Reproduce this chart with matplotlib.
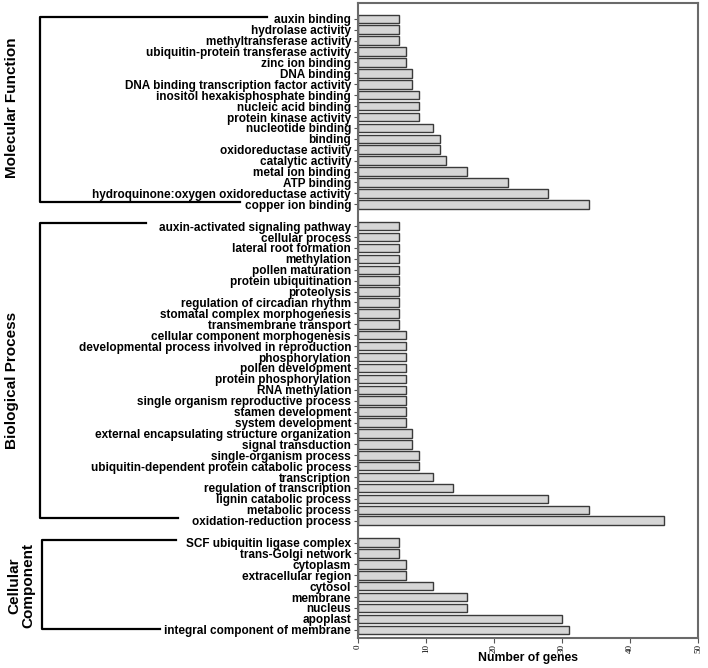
import matplotlib
matplotlib.use("Agg")
import matplotlib.pyplot as plt
from matplotlib.lines import Line2D

mf_terms = ["auxin binding", "hydrolase activity", "methyltransferase activity",
            "ubiquitin-protein transferase activity", "zinc ion binding", "DNA binding",
            "DNA binding transcription factor activity", "inositol hexakisphosphate binding",
            "nucleic acid binding", "protein kinase activity", "nucleotide binding", "binding",
            "oxidoreductase activity", "catalytic activity", "metal ion binding", "ATP binding",
            "hydroquinone:oxygen oxidoreductase activity", "copper ion binding"]
mf_values = [6, 6, 6, 7, 7, 8, 8, 9, 9, 9, 11, 12, 12, 13, 16, 22, 28, 34]

bp_terms = ["auxin-activated signaling pathway", "cellular process", "lateral root formation",
            "methylation", "pollen maturation", "protein ubiquitination", "proteolysis",
            "regulation of circadian rhythm", "stomatal complex morphogenesis",
            "transmembrane transport", "cellular component morphogenesis",
            "developmental process involved in reproduction", "phosphorylation",
            "pollen development", "protein phosphorylation", "RNA methylation",
            "single organism reproductive process", "stamen development", "system development",
            "external encapsulating structure organization", "signal transduction",
            "single-organism process", "ubiquitin-dependent protein catabolic process",
            "transcription", "regulation of transcription", "lignin catabolic process",
            "metabolic process", "oxidation-reduction process"]
bp_values = [6, 6, 6, 6, 6, 6, 6, 6, 6, 6, 7, 7, 7, 7, 7, 7, 7, 7, 7, 8, 8, 9, 9, 11, 14, 28, 34, 45]

cc_terms = ["SCF ubiquitin ligase complex", "trans-Golgi network", "cytoplasm",
            "extracellular region", "cytosol", "membrane", "nucleus", "apoplast",
            "integral component of membrane"]
cc_values = [6, 6, 7, 7, 11, 16, 16, 30, 31]

group_names = ["Molecular Function", "Biological Process", "Cellular\nComponent"]
x_ticks = [0, 10, 20, 30, 40, 50]
x_label = "Number of genes"

W, H = 708, 668
fig = plt.figure(figsize=(W / 100, H / 100), dpi=100)
ax = fig.add_axes([358 / W, 1 - 638 / H, (698 - 358) / W, (638 - 3) / H])

labels = []
values = []
positions = []
pos = 0
for terms, vals in [(mf_terms, mf_values), (bp_terms, bp_values), (cc_terms, cc_values)]:
    for t, v in zip(terms, vals):
        labels.append(t)
        values.append(v)
        positions.append(pos)
        pos += 1
    pos += 1

ax.barh(positions, values, height=0.78, color="#d6d6d6", edgecolor="#3a3a3a", linewidth=1.0)
ax.set_ylim(positions[-1] + 0.75, -1.45)
ax.set_xlim(0, 50)
ax.set_yticks(positions)
ax.set_yticklabels(labels, fontsize=8.5, fontweight="bold", family="Liberation Sans")
ax.tick_params(axis="y", length=3, width=0.8, pad=2, color="#555555")
ax.set_xticks(x_ticks)
ax.set_xticklabels([str(t) for t in x_ticks], rotation=90, fontsize=6.5, family="Liberation Serif")
ax.tick_params(axis="x", length=3.5, width=0.8, pad=1, color="#555555")
ax.set_xlabel(x_label, fontsize=8.8, fontweight="bold", family="Liberation Sans")
ax.xaxis.set_label_coords(0.5, (638 - 652) / 635)
for s in ["top", "right", "left", "bottom"]:
    ax.spines[s].set_color("#6a6a6a")
    ax.spines[s].set_linewidth(1.5)

def fx(px):
    return px / W

def fy(py):
    return 1 - py / H

def bracket(x, y0, y1, xtop, xbot):
    pts_x = [xtop, x, x, xbot]
    pts_y = [y0, y0, y1, y1]
    fig.add_artist(Line2D([fx(p) for p in pts_x], [fy(p) for p in pts_y],
                          color="black", linewidth=1.6, transform=fig.transFigure))

bracket(40, 17, 202, 267, 240)
bracket(40, 223, 518, 146, 178)
bracket(42, 540, 629, 176, 160)

fig.text(fx(12), fy(108), group_names[0], rotation=90, ha="center", va="center",
         fontsize=11, fontweight="bold", family="Liberation Sans")
fig.text(fx(12), fy(380), group_names[1], rotation=90, ha="center", va="center",
         fontsize=11, fontweight="bold", family="Liberation Sans")
fig.text(fx(21), fy(586), group_names[2], rotation=90, ha="center", va="center",
         fontsize=11, fontweight="bold", family="Liberation Sans", linespacing=1.0,
         multialignment="center")

fig.savefig("out.png", dpi=100)
